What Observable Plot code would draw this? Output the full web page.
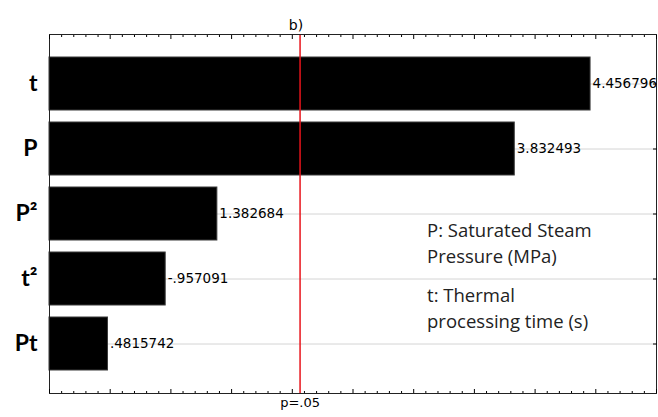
<!DOCTYPE html>
<html>
<head>
<meta charset="utf-8">
<script src="https://cdn.jsdelivr.net/npm/d3@7"></script>
<script src="https://cdn.jsdelivr.net/npm/@observablehq/plot@0.6"></script>
<style>
  body { margin: 0; background: white; }
</style>
</head>
<body>
<div id="chart"></div>
<script>
const terms = ["t", "P", "P²", "t²", "Pt"];
const effects = [4.456796, 3.832493, 1.382684, -0.957091, 0.4815742];
const effectLabels = ["4.456796", "3.832493", "1.382684", "-.957091", ".4815742"];
const pCrit = 2.064;
const pLabel = "p=.05";
const titleText = "b)";
const xMajorTicks = [0, 0.5, 1, 1.5, 2, 2.5, 3, 3.5, 4, 4.5, 5];
const xMinorTicks = [0.1,0.2,0.3,0.4,0.6,0.7,0.8,0.9,1.1,1.2,1.3,1.4,1.6,1.7,1.8,1.9,2.1,2.2,2.3,2.4,2.6,2.7,2.8,2.9,3.1,3.2,3.3,3.4,3.6,3.7,3.8,3.9,4.1,4.2,4.3,4.4,4.6,4.7,4.8,4.9];
const notes = ["P: Saturated Steam\nPressure (MPa)", "t: Thermal\nprocessing time (s)"];
const noteRows = ["P²", "t²"];

const data = terms.map((term, i) => ({term, effect: Math.abs(effects[i]), label: effectLabels[i]}));
const noteData = notes.map((text, i) => ({text, term: noteRows[i]}));
const blank = () => "";

const chart = Plot.plot({
  width: 658,
  height: 417,
  marginLeft: 49,
  marginRight: 2,
  marginTop: 34,
  marginBottom: 24,
  style: {fontFamily: "DejaVu Sans", background: "white", overflow: "visible"},
  x: {domain: [0, 5]},
  y: {domain: terms, paddingInner: 0.19, paddingOuter: 0.336, label: null},
  marks: [
    Plot.gridY({stroke: "#d4d4d4", strokeOpacity: 1}),
    Plot.barX(data, {x: "effect", y: "term", fill: "black", stroke: "#3a3a3a"}),
    Plot.text(data, {x: "effect", y: "term", text: "label", textAnchor: "start", dx: 2, fontSize: 13.5, fill: "black"}),
    Plot.ruleX([pCrit], {stroke: "#e8141b", strokeWidth: 1.5}),
    Plot.frame({stroke: "#222"}),
    Plot.axisX({anchor: "top", ticks: xMajorTicks, tickSize: -4, tickFormat: blank, label: null}),
    Plot.axisX({anchor: "top", ticks: xMinorTicks, tickSize: -2, tickFormat: blank, label: null}),
    Plot.axisX({anchor: "bottom", ticks: xMajorTicks, tickSize: -4, tickFormat: blank, label: null}),
    Plot.axisX({anchor: "bottom", ticks: xMinorTicks, tickSize: -2, tickFormat: blank, label: null}),
    Plot.axisY({anchor: "right", tickSize: -4, tickFormat: blank, label: null}),
    Plot.axisY({anchor: "left", tickSize: 0, tickPadding: 12, fontSize: 23, fontWeight: "bold", fontFamily: "Lato", fill: "black", label: null}),
    Plot.text(noteData, {x: () => 3.11, y: "term", text: "text", textAnchor: "start", lineAnchor: "middle", lineHeight: 1.4, dy: 28, fontSize: 18.5, fontFamily: "Open Sans", fill: "#222"}),
    Plot.text([titleText], {x: () => 2.03, frameAnchor: "top", dy: -14, fontSize: 14, fill: "black"}),
    Plot.text([pLabel], {x: () => pCrit, frameAnchor: "bottom", dy: 13, fontSize: 13, fill: "black"})
  ]
});
document.getElementById("chart").appendChild(chart);
</script>
</body>
</html>
